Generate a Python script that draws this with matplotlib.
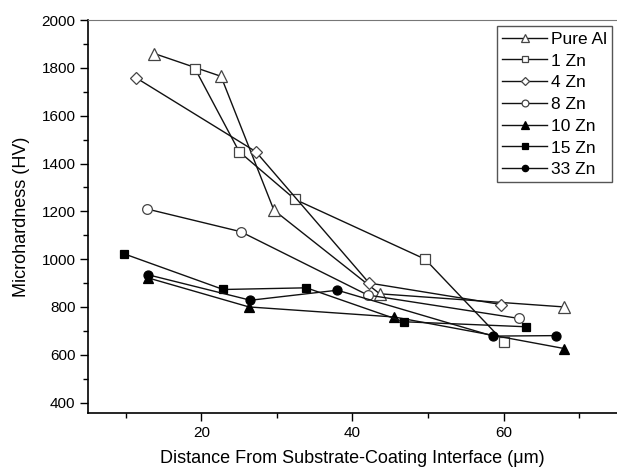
import numpy as np
import matplotlib.pyplot as plt
from matplotlib.ticker import MultipleLocator

plt.rcParams['font.family'] = ['Liberation Sans', 'DejaVu Sans']

# data
labels = ['Pure Al', '1 Zn', '4 Zn', '8 Zn', '10 Zn', '15 Zn', '33 Zn']
x_al = [13.8, 22.6, 29.6, 43.6, 68.0]
y_al = [1860, 1765, 1205, 855, 800]
x_1 = [19.2, 25.0, 32.4, 49.6, 60.0]
y_1 = [1795, 1450, 1250, 1000, 655]
x_4 = [11.3, 27.2, 42.2, 59.7]
y_4 = [1760, 1450, 900, 810]
x_8 = [12.8, 25.2, 42.0, 62.0]
y_8 = [1210, 1115, 850, 752]
x_10 = [12.9, 26.3, 45.5, 68.0]
y_10 = [922, 800, 758, 626]
x_15 = [9.8, 22.9, 33.9, 46.8, 63.0]
y_15 = [1022, 873, 880, 738, 717]
x_33 = [12.9, 26.5, 38.0, 58.6, 66.9]
y_33 = [935, 828, 870, 678, 680]

series = [(x_al, y_al, '^', 'white', 8),
          (x_1, y_1, 's', 'white', 6.5),
          (x_4, y_4, 'D', 'white', 6),
          (x_8, y_8, 'o', 'white', 7),
          (x_10, y_10, '^', 'black', 7.5),
          (x_15, y_15, 's', 'black', 6),
          (x_33, y_33, 'o', 'black', 6.5)]

fig = plt.figure(figsize=(6.17, 4.69), dpi=100)
ax = fig.add_axes([0.1426, 0.1188, 0.8574, 0.8382])

for (xs, ys, m, fc, ms), lab in zip(series, labels):
    ax.plot(xs, ys, color='#111111', lw=1.0, marker=m, markersize=ms,
            markerfacecolor=fc, markeredgecolor='#444444' if fc == 'white' else 'black',
            markeredgewidth=0.9, label=lab)

ax.set_xlim(5, 75)
ax.set_ylim(355, 2000)
ax.xaxis.set_major_locator(MultipleLocator(20))
ax.xaxis.set_minor_locator(MultipleLocator(10))
ax.yaxis.set_minor_locator(MultipleLocator(100))
ax.set_yticks(np.arange(400, 2001, 200))
ax.tick_params(which='major', length=6, width=1, labelsize=11, direction='out', pad=3)
ax.tick_params(which='minor', length=3.5, width=1, direction='out')

ax.spines['right'].set_visible(False)
ax.spines['top'].set_color('#777777')
ax.spines['left'].set_linewidth(1.2)
ax.spines['bottom'].set_linewidth(1.2)

ax.set_xlabel('Distance From Substrate-Coating Interface (\u03bcm)', fontsize=13, labelpad=7)
ax.set_ylabel('Microhardness (HV)', fontsize=13, labelpad=8)

leg = ax.legend(loc='upper right', bbox_to_anchor=(0.997, 0.993), fontsize=12.5,
                markerscale=0.7, handlelength=2.6, handletextpad=0.2,
                labelspacing=0.38, borderpad=0.3, borderaxespad=0.2,
                fancybox=False, framealpha=1)
leg.get_frame().set_edgecolor('#555555')
leg.get_frame().set_linewidth(1.0)

fig.savefig('out.png', dpi=100)
